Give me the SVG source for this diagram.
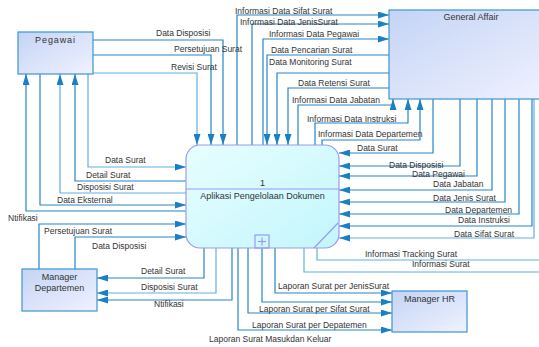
<svg xmlns="http://www.w3.org/2000/svg" width="539" height="347" viewBox="0 0 539 347">
<defs>
<linearGradient id="gb" x1="0" y1="0" x2="1" y2="1">
<stop offset="0" stop-color="#c4d4f5"/>
<stop offset="1" stop-color="#f0f2ff"/>
</linearGradient>
<linearGradient id="gp" x1="0" y1="0" x2="1" y2="1">
<stop offset="0" stop-color="#e8feff"/>
<stop offset="1" stop-color="#c2f6fc"/>
</linearGradient>
<marker id="ah" markerUnits="userSpaceOnUse" markerWidth="11" markerHeight="7" refX="11" refY="3.5" orient="auto">
<path d="M0,0 L11,3.5 L0,7 z" fill="#1a80c4"/>
</marker>
<style>
.c{fill:none;stroke:#2486c8;stroke-width:1.2}
.l{stroke:#62b0e2}
.a{marker-end:url(#ah)}
text{font-family:"Liberation Sans",Arial,sans-serif;font-size:8.5px;fill:#333}
.nt{font-size:9px;text-anchor:middle}
.node{stroke:#3d95cf;stroke-width:1.2;fill:url(#gb)}
.proc{stroke:#9a9af0;stroke-width:1.2;fill:url(#gp)}
.pl{stroke:#9a9af0;stroke-width:1.2;fill:none}
</style>
</defs>
<rect width="539" height="347" fill="#ffffff"/>

<g id="connectors">
<polyline class="c a" points="93,40 223,40 223,145"/>
<polyline class="c a" points="93,55 211,55 211,145"/>
<polyline class="c l a" points="93,73 197,73 197,145"/>
<polyline class="c l a" points="88,74 88,167 186,167"/>
<polyline class="c a" points="186,181 75,181 75,74"/>
<polyline class="c l a" points="186,193 60,193 60,74"/>
<polyline class="c a" points="40,74 40,205 186,205"/>
<polyline class="c a" points="186,211 26,211 26,74"/>
<polyline class="c a" points="39,269 39,224 186,224"/>
<polyline class="c a" points="75,269 75,237 186,237"/>
<polyline class="c a" points="204,248 204,278 97,278"/>
<polyline class="c l a" points="216,248 216,293 97,293"/>
<polyline class="c a" points="232,248 232,300 97,300"/>
<polyline class="c a" points="275,248 275,293 392,293"/>
<polyline class="c a" points="262,248 262,302 392,302"/>
<polyline class="c a" points="248,248 248,313 392,313"/>
<polyline class="c a" points="238,248 238,330 392,330"/>
<polyline class="c l" points="317,245 317,260 545,260"/>
<polyline class="c l" points="304,248 304,272 545,272"/>
<polyline class="c a" points="237,145 237,15 389,15"/>
<polyline class="c a" points="252,145 252,24 389,24"/>
<polyline class="c a" points="263,145 263,39 389,39"/>
<polyline class="c a" points="389,55 267,55 267,145"/>
<polyline class="c a" points="389,73 277,73 277,145"/>
<polyline class="c a" points="389,88 288,88 288,145"/>
<polyline class="c a" points="298,145 298,105 393,105 393,99"/>
<polyline class="c a" points="315,145 315,123 408,123 408,99"/>
<polyline class="c a" points="322,145 322,140 420,140 420,99"/>
<polyline class="c a" points="433,99 433,153 339,153"/>
<polyline class="c a" points="460,99 460,166 339,166"/>
<polyline class="c a" points="477,99 477,176 339,176"/>
<polyline class="c a" points="492,99 492,190 339,190"/>
<polyline class="c a" points="505,99 505,202 339,202"/>
<polyline class="c a" points="519,99 519,214 339,214"/>
<polyline class="c a" points="532,99 532,226 339,226"/>
<polyline class="c l a" points="534,99 534,238 339,238"/>

<text x="156" y="36">Data Disposisi</text>
<text x="174" y="52">Persetujuan Surat</text>
<text x="171" y="70">Revisi Surat</text>
<text x="105" y="163">Data Surat</text>
<text x="86" y="178">Detail Surat</text>
<text x="77" y="190">Disposisi Surat</text>
<text x="57" y="203">Data Eksternal</text>
<text x="8" y="221">Ntifikasi</text>
<text x="44" y="234">Persetujuan Surat</text>
<text x="92" y="249">Data Disposisi</text>
<text x="141" y="274">Detail Surat</text>
<text x="141" y="290">Disposisi Surat</text>
<text x="154" y="307">Ntifikasi</text>
<text x="278" y="289">Laporan Surat per JenisSurat</text>
<text x="259" y="312">Laporan Surat per Sifat Surat</text>
<text x="252" y="328">Laporan Surat per Depatemen</text>
<text x="209" y="342">Laporan Surat Masukdan Keluar</text>
<text x="365" y="257">Informasi Tracking Surat</text>
<text x="412" y="267">Informasi Surat</text>
<text x="235" y="14">Informasi Data Sifat Surat</text>
<text x="240" y="25">Informasi Data JenisSurat</text>
<text x="269" y="37">Informasi Data Pegawai</text>
<text x="271" y="53">Data Pencarian Surat</text>
<text x="269" y="65">Data Monitoring Surat</text>
<text x="298" y="86">Data Retensi Surat</text>
<text x="292" y="103">Informasi Data Jabatan</text>
<text x="307" y="122">Informasi Data Instruksi</text>
<text x="318" y="137">Informasi Data Departemen</text>
<text x="357" y="151">Data Surat</text>
<text x="389" y="168">Data Disposisi</text>
<text x="412" y="177">Data Pegawai</text>
<text x="433" y="187">Data Jabatan</text>
<text x="433" y="201">Data Jenis Surat</text>
<text x="445" y="213">Data Departemen</text>
<text x="458" y="223">Data Instruksi</text>
<text x="454" y="237">Data Sifat Surat</text>
</g>

<g id="pegawai">
<rect class="node" x="18" y="32" width="75" height="42"/>
<text class="nt" x="55.5" y="43" letter-spacing="0.9">Pegawai</text>
</g>

<g id="general-affair">
<rect class="node" x="389" y="10" width="164" height="89"/>
<text class="nt" x="471" y="20">General Affair</text>
</g>

<g id="proses-1">
<rect class="proc" x="186" y="145" width="153" height="103" rx="14" ry="14"/>
<line class="pl" x1="186" y1="189" x2="339" y2="189"/>
<line class="pl" x1="314" y1="248" x2="338" y2="223"/>
<rect class="pl" x="255" y="235" width="14" height="13"/>
<line class="pl" x1="262" y1="237.5" x2="262" y2="245.5"/>
<line class="pl" x1="258" y1="241.5" x2="266" y2="241.5"/>
<text class="nt" x="262.5" y="186">1</text>
<text class="nt" x="262.5" y="199" font-size="8.6">Aplikasi Pengelolaan Dokumen</text>
</g>

<g id="manager-departemen">
<rect class="node" x="22" y="269" width="75" height="42"/>
<text class="nt" x="59.5" y="280">Manager</text>
<text class="nt" x="59.5" y="291">Departemen</text>
</g>

<g id="manager-hr">
<rect class="node" x="392" y="291" width="75" height="41"/>
<text class="nt" x="429.5" y="302">Manager HR</text>
</g>
</svg>
